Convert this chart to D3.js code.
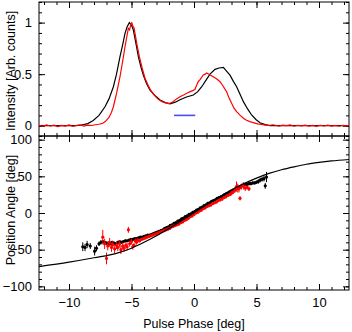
<!DOCTYPE html>
<html>
<head>
<meta charset="utf-8">
<script src="https://cdn.jsdelivr.net/npm/d3@7"></script>
<style>
  body { margin: 0; background: #fff; }
  svg { display: block; font-family: "Liberation Sans", Arial, sans-serif; }
  .tick text { font-size: 13px; fill: #000; }
  .tick line { stroke: #000; }
</style>
</head>
<body>
<div id="chart"></div>
<script>
// profile data: black = model / reference profile, red = observed profile
var profBlackPhase = [-12.4, -9.5, -9.0, -8.5, -8.06, -7.6, -7.12, -6.8, -6.45, -6.2, -5.92, -5.7, -5.52, -5.35, -5.17, -5.0, -4.85, -4.65, -4.45, -4.25, -4.05, -3.8, -3.52, -3.1, -2.72, -2.3, -1.92, -1.5, -1.12, -0.6, -0.05, 0.3, 0.62, 0.95, 1.28, 1.68, 2.0, 2.35, 2.6, 2.88, 3.15, 3.41, 3.7, 3.95, 4.3, 4.61, 4.95, 5.28, 5.7, 6.08, 12.4];
var profBlack = [0, 0, 0.005, 0.02, 0.05, 0.1, 0.184, 0.26, 0.378, 0.5, 0.669, 0.79, 0.896, 0.96, 1.0, 0.975, 0.928, 0.8, 0.669, 0.57, 0.49, 0.41, 0.346, 0.29, 0.249, 0.225, 0.212, 0.228, 0.252, 0.278, 0.298, 0.33, 0.378, 0.44, 0.501, 0.547, 0.56, 0.566, 0.53, 0.49, 0.43, 0.378, 0.3, 0.233, 0.16, 0.104, 0.06, 0.029, 0.01, 0.0, 0];

var profRedPhase = [-12.4, -12.1, -11.8, -11.5, -11.2, -10.9, -10.6, -10.3, -10.0, -9.7, -9.4, -9.1, -8.8, -8.5, -8.2, -7.9, -7.6, -7.3, -7.1, -6.8, -6.6, -6.45, -6.2, -5.92, -5.7, -5.52, -5.35, -5.25, -5.15, -5.05, -4.98, -4.9, -4.8, -4.72, -4.55, -4.37, -4.15, -3.92, -3.7, -3.5, -3.2, -2.9, -2.6, -2.3, -2.0, -1.7, -1.4, -1.12, -0.8, -0.5, -0.3, -0.1, 0.08, 0.2, 0.34, 0.5, 0.74, 0.9, 1.01, 1.2, 1.4, 1.54, 1.8, 2.08, 2.3, 2.45, 2.61, 2.8, 3.01, 3.2, 3.41, 3.7, 3.95, 4.2, 4.48, 4.8, 5.1, 5.4, 5.7, 6.0, 6.3, 6.5, 6.8, 7.1, 7.4, 7.7, 8.0, 8.3, 8.6, 8.9, 9.2, 9.5, 9.8, 10.1, 10.4, 10.7, 11.0, 11.3, 11.6, 11.9, 12.2, 12.4];
var profRed = [0.004, -0.006, 0.008, -0.003, 0.006, -0.008, 0.003, -0.004, 0.007, -0.006, 0.002, 0.008, -0.004, 0.005, 0.002, 0.009, 0.014, 0.024, 0.04, 0.08, 0.13, 0.184, 0.31, 0.475, 0.63, 0.766, 0.88, 0.945, 0.93, 0.99, 1.0, 0.97, 0.95, 0.896, 0.78, 0.669, 0.56, 0.46, 0.4, 0.35, 0.3, 0.26, 0.235, 0.222, 0.215, 0.23, 0.26, 0.28, 0.3, 0.32, 0.33, 0.34, 0.353, 0.39, 0.427, 0.45, 0.492, 0.5, 0.512, 0.5, 0.485, 0.475, 0.455, 0.427, 0.39, 0.36, 0.33, 0.27, 0.217, 0.17, 0.136, 0.1, 0.072, 0.052, 0.039, 0.028, 0.018, 0.012, 0.006, 0.002, 0.009, 0.004, -0.004, 0.006, 0.001, 0.007, -0.005, 0.004, -0.002, 0.006, -0.004, 0.003, -0.006, 0.004, -0.003, 0.005, -0.004, 0.002, -0.005, 0.004, -0.002, 0.003];

var barPhase = [-1.6, 0.1];
var barLevel = [0.1, 0.1];

// position angle fit curve
var fitPhase = [-12.4, -10, -8, -6.2, -5, -4, -3, -2, -1, 0, 1, 2, 3, 4, 5, 6, 7, 8, 9, 10, 11, 12.4];
var fitPA = [-73, -67, -61, -55, -48, -40, -31, -21, -10.5, 0.5, 11, 21.5, 31.5, 40, 47.5, 54, 59, 63, 66.5, 69, 71, 73];

// position angle points: black
var paBlackPhase = [-8.9, -8.72, -8.55, -8.3, -7.95, -7.8, -7.6, -7.45, -7.3, -7.15, -7.0, -6.85, -6.7, -6.55, -6.4, -6.25, -6.1, -5.95, -5.8, -5.65, -5.5, -5.35, -5.2, -5.05, -4.9, -4.75, -4.6, -4.45, -4.3, -4.15, -4.0, -3.85, -3.7, -3.55, -3.4, -3.25, -3.1, -2.95, -2.8, -2.65, -2.5, -2.35, -2.2, -2.05, -1.9, -1.75, -1.6, -1.45, -1.3, -1.15, -1.0, -0.85, -0.7, -0.55, -0.4, -0.25, -0.1, 0.05, 0.2, 0.35, 0.5, 0.65, 0.8, 0.95, 1.1, 1.25, 1.4, 1.55, 1.7, 1.85, 2.0, 2.15, 2.3, 2.45, 2.6, 2.75, 2.9, 3.05, 3.2, 3.35, 3.5, 3.65, 3.8, 3.95, 4.1, 4.25, 4.4, 4.55, 4.7, 4.85, 5.0, 5.15, 5.3, 5.45, 5.6, 5.7, 5.8];
var paBlack = [-46, -47, -43, -45, -52, -48, -42, -40, -39, -40, -41, -41, -42, -40, -41, -42, -40, -39, -40, -39, -38, -38, -37, -36, -36, -35, -35, -34, -33, -33, -32, -31, -30, -30, -29, -28, -27, -26, -25, -24, -23, -21, -20, -19, -17, -16, -14, -13, -11, -10, -8, -7, -5, -4, -2, -1, 1, 2, 4, 5, 7, 8, 10, 11, 13, 14, 16, 17, 18, 20, 21, 22, 23, 25, 26, 27, 29, 30, 31, 33, 34, 35, 37, 38, 39, 39, 40, 40, 41, 41, 42, 43, 45, 46, 47, 37, 49];
var paBlackErr = [6, 5, 5, 4, 6, 4, 3, 3, 2, 2, 2, 2, 2, 2, 2, 2, 2, 2, 2, 2, 2, 1.5, 1.5, 1.5, 1.5, 1.5, 1.5, 1.5, 1.5, 1.5, 1.5, 1.5, 1.5, 1.5, 1.5, 1.5, 1.5, 1.5, 1.5, 1.5, 1.5, 1.5, 1.5, 1.5, 1.5, 1.5, 1.5, 1.5, 1.5, 1.5, 1.5, 1.5, 1.5, 1.5, 1.5, 1.5, 1.5, 1.5, 1.5, 1.5, 1.5, 1.5, 1.5, 1.5, 1.5, 1.5, 1.5, 1.5, 1.5, 1.5, 1.5, 1.5, 1.5, 1.5, 1.5, 1.5, 1.5, 1.5, 1.5, 2, 2, 2, 2, 2, 2, 2, 2, 2, 2, 2, 2, 3, 3, 3, 4, 4, 7];

// position angle points: red
var paRedPhase = [-7.3, -7.15, -7.0, -6.9, -6.75, -6.6, -6.5, -6.35, -6.2, -6.1, -5.95, -5.85, -5.7, -5.6, -5.45, -5.35, -5.25, -5.15, -5.0, -4.9, -4.8, -4.7, -4.6, -4.5, -4.35, -4.2, -4.05, -3.9, -3.75, -3.6, -3.45, -3.3, -3.15, -3.0, -2.85, -2.7, -2.55, -2.4, -2.25, -2.1, -1.95, -1.8, -1.65, -1.5, -1.35, -1.2, -1.05, -0.9, -0.75, -0.6, -0.45, -0.3, -0.15, 0.0, 0.15, 0.3, 0.45, 0.6, 0.75, 0.9, 1.05, 1.2, 1.35, 1.5, 1.65, 1.8, 1.95, 2.1, 2.25, 2.4, 2.55, 2.7, 2.85, 3.0, 3.15, 3.3, 3.4, 3.5, 3.6, 3.68, 3.8, 3.95, 4.1, 4.25, 4.4];
var paRed = [-33, -42, -62, -45, -40, -47, -43, -49, -44, -47, -42, -50, -45, -48, -44, -46, -23, -42, -39, -46, -44, -38, -40, -37, -38, -36, -35, -34, -33, -32, -31, -30, -29, -28, -27, -26, -25, -24, -23, -22, -21, -19, -18, -17, -16, -15, -13, -12, -10, -9, -7, -5, -4, -2, 0, 1, 3, 4, 6, 7, 9, 10, 11, 13, 14, 15, 17, 18, 19, 21, 22, 24, 25, 27, 29, 32, 36, 34, 33, 20, 36, 37, 34, 35, 33];
var paRedErr = [10, 7, 8, 6, 6, 6, 5, 6, 5, 5, 5, 6, 5, 5, 4, 5, 4, 4, 4, 4, 3, 3, 3, 3, 2, 2, 2, 2, 2, 2, 2, 2, 2, 2, 2, 2, 2, 2, 2, 2, 2, 2, 2, 2, 2, 2, 2, 2, 2, 2, 2, 2, 2, 2, 2, 2, 2, 2, 2, 2, 2, 2, 2, 2, 2, 2, 2, 2, 2, 2, 2, 2, 2, 3, 3, 4, 7, 6, 5, 3, 4, 5, 4, 3, 3];

var xMajor = [-10, -5, 0, 5, 10];
var xMinor = d3.range(-12, 13, 1);
var topMajor = [0, 0.5, 1];
var topMinor = d3.range(-0.1, 1.21, 0.1);
var botMajor = [-100, -50, 0, 50, 100];
var botMinor = d3.range(-100, 101, 10);

var W = 352, H = 332;
var svg = d3.select('#chart').append('svg').attr('width', W).attr('height', H);

var x = d3.scaleLinear().domain([-12.4, 12.4]).range([39, 349]);
var yTop = d3.scaleLinear().domain([-0.1, 1.2]).range([136, 2]);
var yBot = d3.scaleLinear().domain([-105, 105]).range([290, 136]);
var fmt = d3.format('~g');

function zip(a, b) {
  return a.map(function (v, i) { return [v, b[i]]; });
}

function frame(yScale, yMajor, yMinor, withX, clipId) {
  var r = yScale.range();
  var top = r[1], bottom = r[0];
  var g = svg.append('g');

  svg.append('clipPath').attr('id', clipId).append('rect')
    .attr('x', x.range()[0]).attr('y', top)
    .attr('width', x.range()[1] - x.range()[0]).attr('height', bottom - top);

  // ticks all round, pointing inwards
  function ax(axis, tx, ty, vals, size, labels) {
    var a = axis.tickValues(vals).tickSizeInner(-size).tickSizeOuter(0);
    a.tickFormat(labels ? fmt : '');
    var s = g.append('g').attr('transform', 'translate(' + tx + ',' + ty + ')').call(a);
    s.select('.domain').remove();
    return s;
  }
  var xl = ax(d3.axisBottom(x), 0, bottom, xMajor, 6, withX);
  xl.selectAll('text').attr('y', 8);
  ax(d3.axisBottom(x), 0, bottom, xMinor, 3, false);
  ax(d3.axisTop(x), 0, top, xMajor, 6, false);
  ax(d3.axisTop(x), 0, top, xMinor, 3, false);

  var yl = ax(d3.axisLeft(yScale), x.range()[0], 0, yMajor, 6, true);
  yl.selectAll('text').attr('x', -7);
  ax(d3.axisLeft(yScale), x.range()[0], 0, yMinor, 3, false);
  ax(d3.axisRight(yScale), x.range()[1], 0, yMajor, 6, false);
  ax(d3.axisRight(yScale), x.range()[1], 0, yMinor, 3, false);

  g.append('rect')
    .attr('x', x.range()[0]).attr('y', top)
    .attr('width', x.range()[1] - x.range()[0]).attr('height', bottom - top)
    .attr('fill', 'none').attr('stroke', '#000').attr('stroke-width', 1);

  return svg.append('g').attr('clip-path', 'url(#' + clipId + ')');
}

// top panel: profiles
var pTop = frame(yTop, topMajor, topMinor, false, 'clipTop');
var lineTop = d3.line().x(function (d) { return x(d[0]); }).y(function (d) { return yTop(d[1]); });

pTop.append('path').datum(zip(profBlackPhase, profBlack))
  .attr('d', lineTop).attr('fill', 'none').attr('stroke', '#000').attr('stroke-width', 1.2);
pTop.append('path').datum(zip(profRedPhase, profRed))
  .attr('d', lineTop).attr('fill', 'none').attr('stroke', '#ff0000').attr('stroke-width', 1.2);
pTop.append('path').datum(zip(barPhase, barLevel))
  .attr('d', lineTop).attr('fill', 'none').attr('stroke', '#4a4aff').attr('stroke-width', 1.6);

// bottom panel: position angle
var pBot = frame(yBot, botMajor, botMinor, true, 'clipBot');
var lineBot = d3.line().curve(d3.curveMonotoneX)
  .x(function (d) { return x(d[0]); }).y(function (d) { return yBot(d[1]); });

function points(ph, pa, err, color) {
  var data = ph.map(function (v, i) { return { x: v, y: pa[i], e: err[i] }; });
  var g = pBot.append('g');
  g.selectAll('line').data(data).enter().append('line')
    .attr('x1', function (d) { return x(d.x); })
    .attr('x2', function (d) { return x(d.x); })
    .attr('y1', function (d) { return yBot(d.y - d.e); })
    .attr('y2', function (d) { return yBot(d.y + d.e); })
    .attr('stroke', color).attr('stroke-width', 1);
  g.selectAll('circle').data(data).enter().append('circle')
    .attr('cx', function (d) { return x(d.x); })
    .attr('cy', function (d) { return yBot(d.y); })
    .attr('r', 1.6).attr('fill', color);
}

points(paBlackPhase, paBlack, paBlackErr, '#000');
points(paRedPhase, paRed, paRedErr, '#ff0000');

pBot.append('path').datum(zip(fitPhase, fitPA))
  .attr('d', lineBot).attr('fill', 'none').attr('stroke', '#000').attr('stroke-width', 1.2);

// axis titles
svg.append('text').attr('transform', 'translate(15,71) rotate(-90)')
  .attr('text-anchor', 'middle').attr('font-size', 12.5).text('Intensity [Arb. counts]');
svg.append('text').attr('transform', 'translate(15,210) rotate(-90)')
  .attr('text-anchor', 'middle').attr('font-size', 12.5).text('Position Angle [deg]');
svg.append('text').attr('x', 194).attr('y', 328)
  .attr('text-anchor', 'middle').attr('font-size', 12.5).text('Pulse Phase [deg]');
</script>
</body>
</html>
